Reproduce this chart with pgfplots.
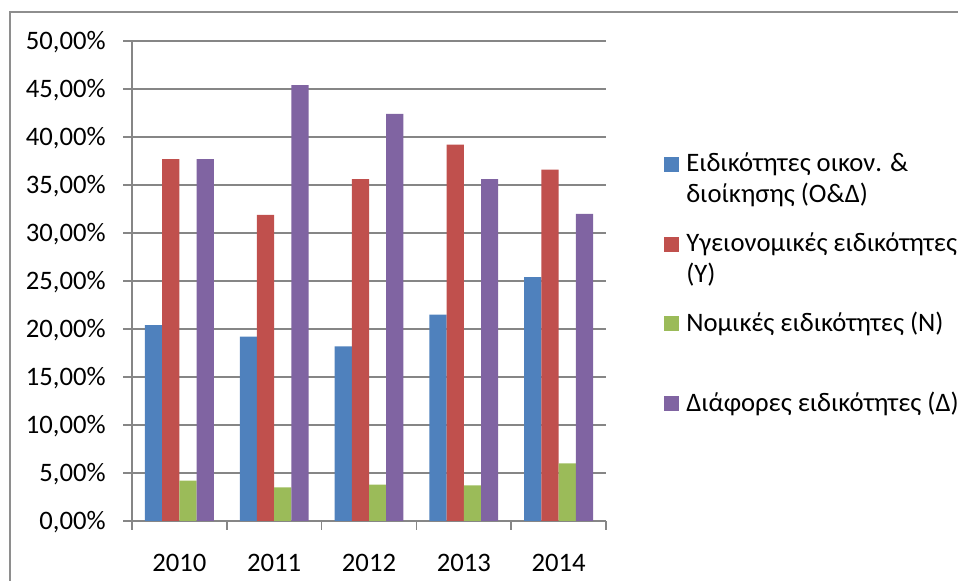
\documentclass[border=0pt]{standalone}
\usepackage{pgfplots}
\pgfplotsset{compat=1.18}
\usepackage{fontspec}
\setmainfont{Carlito}

\definecolor{serA}{HTML}{4F81BD}
\definecolor{serB}{HTML}{C0504D}
\definecolor{serC}{HTML}{9BBB59}
\definecolor{serD}{HTML}{8064A2}
\definecolor{gridgray}{HTML}{868686}
\definecolor{framegray}{HTML}{8E8E8E}

\pgfplotsset{
  sqlegend/.style={legend image code/.code={\fill[##1] (0pt,0pt) rectangle (11.25pt,11.25pt);}}
}

\begin{document}
\fontsize{20}{23.25}\selectfont
\begin{tikzpicture}
% chart frame (left and top edges)
\draw[framegray, line width=1.1pt] (7.5pt,-5pt) -- (7.5pt,426.75pt) -- (740pt,426.75pt);

\begin{axis}[
  at={(99pt,45pt)}, anchor=south west,
  scale only axis, width=355.5pt, height=360pt,
  font=\fontsize{20}{23.25}\selectfont,
  ybar, bar width=12.9pt,
  xmin=-0.5, xmax=4.5, ymin=0, ymax=50,
  axis lines*=left,
  axis line style={gridgray, line width=1.1pt},
  ymajorgrids, grid style={gridgray, line width=1.1pt},
  tick align=outside, major tick length=6.4pt,
  tick style={gridgray, line width=1.1pt},
  ytick={0,5,...,50},
  yticklabels={{0,00\%},{5,00\%},{10,00\%},{15,00\%},{20,00\%},{25,00\%},{30,00\%},{35,00\%},{40,00\%},{45,00\%},{50,00\%}},
  yticklabel style={anchor=base east, inner sep=0pt, xshift=-13.1pt, yshift=-6.3pt},
  xtick={-0.5,0.5,...,4.5},
  xticklabels={},
  extra x ticks={0,1,2,3,4},
  extra x tick labels={2010,2011,2012,2013,2014},
  extra x tick style={xtick style={draw=none}, xticklabel style={anchor=base, inner sep=0pt, yshift=-31.5pt}},
  legend style={at={(1.1224,0.7729)}, anchor=north west, draw=none, fill=none,
    inner sep=0pt, column sep=5.25pt, row sep=13.3pt,
    cells={anchor=base west}, nodes={inner sep=0pt, text depth=},
    font=\fontsize{20}{23.25}\selectfont},
]
\addplot[fill=serA, draw=none, bar shift=-19.35pt, sqlegend] coordinates {(0,20.4) (1,19.2) (2,18.2) (3,21.5) (4,25.4)};
\addplot[fill=serB, draw=none, bar shift=-6.45pt, sqlegend] coordinates {(0,37.7) (1,31.9) (2,35.6) (3,39.2) (4,36.6)};
\addplot[fill=serC, draw=none, bar shift=6.45pt, sqlegend] coordinates {(0,4.2) (1,3.5) (2,3.8) (3,3.7) (4,6.0)};
\addplot[fill=serD, draw=none, bar shift=19.35pt, sqlegend] coordinates {(0,37.7) (1,45.4) (2,42.4) (3,35.6) (4,32.0)};
\legend{
  {\parbox[t]{12cm}{\strut Ειδικότητες οικον. \&\\\strut διοίκησης (Ο\&Δ)}},
  {\parbox[t]{12cm}{\strut Υγειονομικές ειδικότητες\\\strut (Υ)}},
  {\parbox[t]{12cm}{\strut Νομικές ειδικότητες (Ν)\\\strut}},
  {\parbox[t]{12cm}{\strut Διάφορες ειδικότητες (Δ)}}
}
\end{axis}

\pgfresetboundingbox
\path[use as bounding box] (0pt,0pt) rectangle (718.5pt,435.75pt);
\end{tikzpicture}
\end{document}
